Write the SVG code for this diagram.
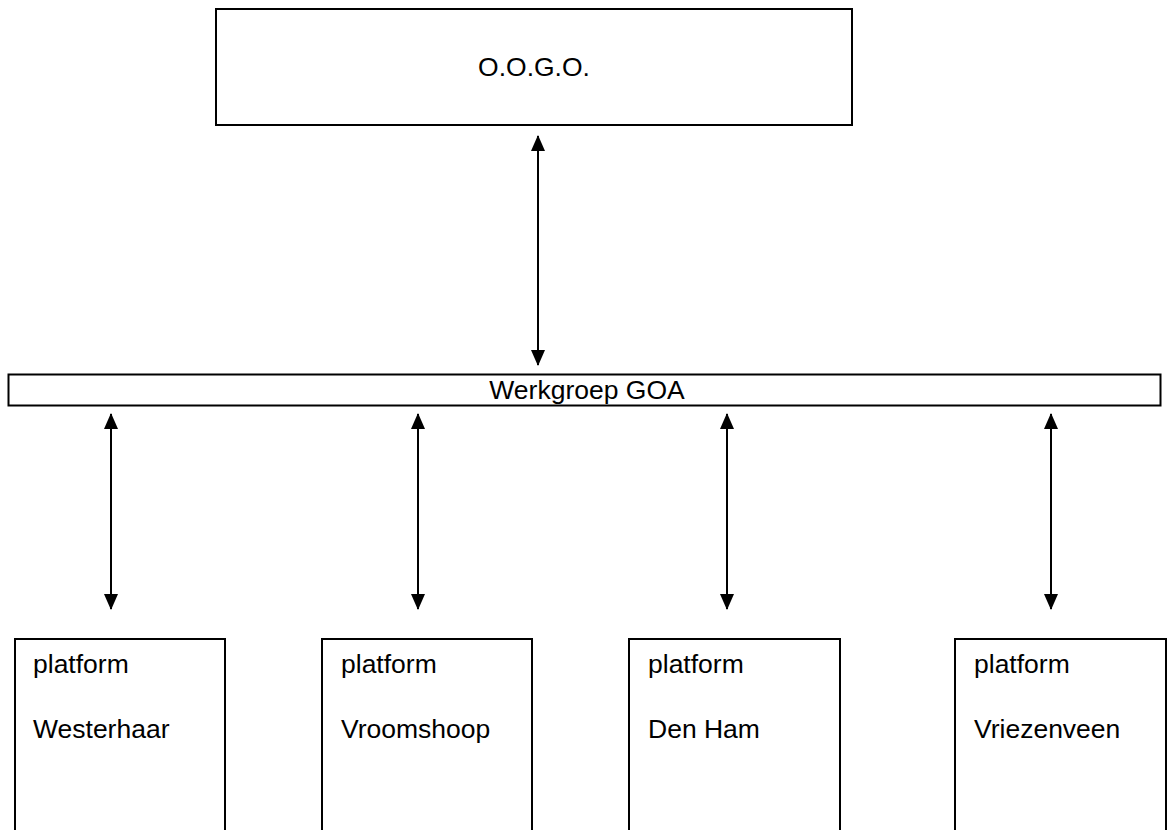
<svg xmlns="http://www.w3.org/2000/svg" width="1167" height="830" viewBox="0 0 1167 830">
<style>
.box{fill:#fff;stroke:#000;stroke-width:2}
.t{font-family:"Liberation Sans",Arial,sans-serif;font-size:26.5px;fill:#000}
.c{text-anchor:middle}
.conn{stroke:#000;stroke-width:2;fill:none;marker-start:url(#ah);marker-end:url(#ah)}
</style>
<defs>
<marker id="ah" viewBox="0 0 16 14" refX="15" refY="7" markerWidth="16" markerHeight="14" markerUnits="userSpaceOnUse" orient="auto-start-reverse">
<path d="M0,0 L16,7 L0,14 Z" fill="#000"/>
</marker>
</defs>
<rect width="1167" height="830" fill="#fff"/>
<g id="oogo">
<rect class="box" x="216" y="9" width="636" height="116"/>
<text class="t c" x="534" y="76">O.O.G.O.</text>
</g>
<g id="werkgroep">
<rect class="box" x="8.5" y="374.5" width="1152" height="31"/>
<text class="t c" x="587" y="399">Werkgroep GOA</text>
</g>
<g id="westerhaar">
<rect class="box" x="15" y="639" width="210" height="200"/>
<text class="t" x="33" y="673">platform</text>
<text class="t" x="33" y="738">Westerhaar</text>
</g>
<g id="vroomshoop">
<rect class="box" x="322" y="639" width="210" height="200"/>
<text class="t" x="341" y="673">platform</text>
<text class="t" x="341" y="738">Vroomshoop</text>
</g>
<g id="denham">
<rect class="box" x="629" y="639" width="211" height="200"/>
<text class="t" x="648" y="673">platform</text>
<text class="t" x="648" y="738">Den Ham</text>
</g>
<g id="vriezenveen">
<rect class="box" x="955" y="639" width="211" height="200"/>
<text class="t" x="974" y="673">platform</text>
<text class="t" x="974" y="738">Vriezenveen</text>
</g>
<g id="connectors">
<line class="conn" x1="538" y1="136" x2="538" y2="365"/>
<line class="conn" x1="111" y1="414" x2="111" y2="609"/>
<line class="conn" x1="418" y1="414" x2="418" y2="609"/>
<line class="conn" x1="727" y1="414" x2="727" y2="609"/>
<line class="conn" x1="1051" y1="414" x2="1051" y2="609"/>
</g>
</svg>
